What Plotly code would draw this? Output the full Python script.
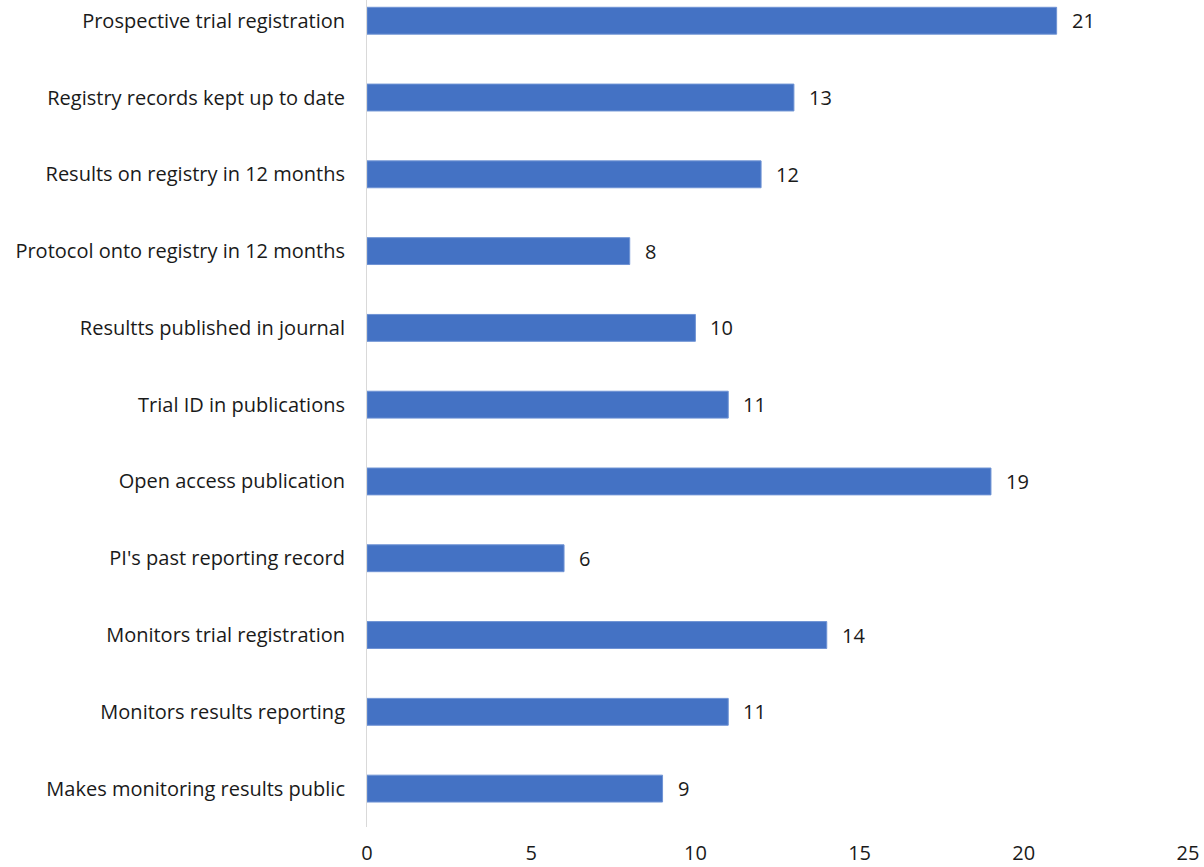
import plotly.graph_objects as go

categories = [
    "Prospective trial registration",
    "Registry records kept up to date",
    "Results on registry in 12 months",
    "Protocol onto registry in 12 months",
    "Resultts published in journal",
    "Trial ID in publications",
    "Open access publication",
    "PI's past reporting record",
    "Monitors trial registration",
    "Monitors results reporting",
    "Makes monitoring results public",
]
values = [21, 13, 12, 8, 10, 11, 19, 6, 14, 11, 9]
x_ticks = [0, 5, 10, 15, 20, 25]

FONT = "Open Sans"
TXT = "#1a1a1a"

fig = go.Figure(
    go.Bar(
        x=values,
        y=categories,
        orientation="h",
        marker=dict(color="#4472C4", line=dict(color="#6f93d4", width=1)),
        width=0.35,
    )
)

for c, v in zip(categories, values):
    fig.add_annotation(
        x=v, y=c, text=str(v), showarrow=False, xanchor="left", xshift=13,
        font=dict(family=FONT, size=20, color=TXT),
    )

fig.update_layout(
    width=1204,
    height=867,
    margin=dict(l=367, r=16, t=0, b=40),
    plot_bgcolor="white",
    paper_bgcolor="white",
    showlegend=False,
    font=dict(family=FONT, size=20, color=TXT),
)
fig.update_xaxes(
    range=[0, 25],
    tickvals=x_ticks,
    showgrid=False,
    zeroline=False,
    showline=False,
    ticks="",
    automargin=False,
    ticklabelstandoff=12,
    tickfont=dict(family=FONT, size=20, color=TXT),
)
fig.update_yaxes(
    categoryorder="array",
    categoryarray=categories,
    range=[10.5, -0.27],
    showgrid=False,
    zeroline=False,
    showline=True,
    linecolor="#d9d9d9",
    linewidth=1,
    ticks="",
    automargin=False,
    ticklabelstandoff=17,
    tickfont=dict(family=FONT, size=20, color=TXT),
)

fig.write_html("out.html")
